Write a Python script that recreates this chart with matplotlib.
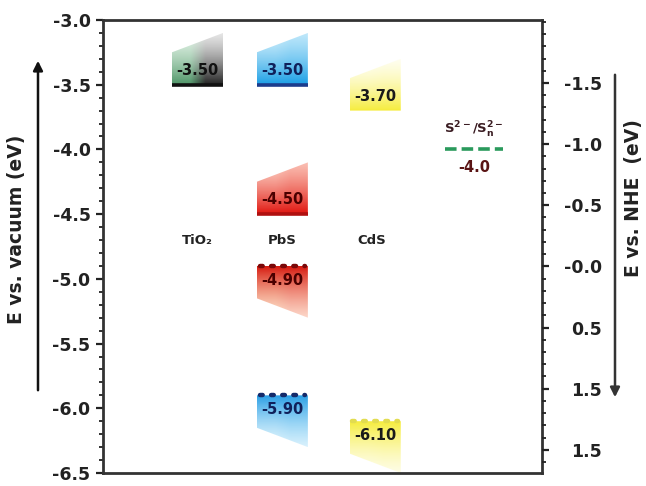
import numpy as np
import matplotlib
matplotlib.use("Agg")
import matplotlib.pyplot as plt
from matplotlib.patches import Polygon, FancyArrowPatch
from matplotlib.colors import to_rgb
from matplotlib.ticker import MultipleLocator, FixedLocator

plt.rcParams["font.family"] = ["DejaVu Sans"]
plt.rcParams["font.weight"] = "bold"

# ---- data -------------------------------------------------------------
materials = ["TiO₂", "PbS", "CdS"]
band_material = ["TiO₂", "PbS", "PbS", "PbS", "PbS", "CdS", "CdS"]
band_energy = [-3.50, -3.50, -4.50, -4.90, -5.90, -3.70, -6.10]   # eV vs vacuum
band_kind = ["CB", "CB", "CB", "VB", "VB", "CB", "VB"]

redox_label = r"$\mathbf{S^{2-}/S_n^{2-}}$"
redox_energy = -4.0

vacuum_ticks = [-3.0, -3.5, -4.0, -4.5, -5.0, -5.5, -6.0, -6.5]
nhe_ticks = [-1.5, -1.0, -0.5, 0.0, 0.5, 1.0, 1.5]
nhe_tick_labels = ["-1.5", "-1.0", "-0.5", "-0.0", "0.5", "1.5", "1.5"]

# ---- styles -----------------------------------------------------------
# per band: (near-edge colour left, near-edge colour right, far colour left,
#            far colour right, alpha near, alpha far, edge line colour,
#            edge line style, text colour)
band_styles = [
    ((0.30, 0.58, 0.40), (0.12, 0.12, 0.12), (0.72, 0.88, 0.76), (0.72, 0.72, 0.72),
     1.0, 0.35, "#111111", "solid", "#111111"),
    ((0.10, 0.62, 0.90), (0.10, 0.62, 0.90), (0.60, 0.86, 0.97), (0.45, 0.80, 0.96),
     1.0, 0.45, "#1c3c8c", "solid", "#10205a"),
    ((0.88, 0.08, 0.06), (0.88, 0.08, 0.06), (0.98, 0.62, 0.52), (0.96, 0.45, 0.35),
     1.0, 0.45, "#b01010", "solid", "#4a0000"),
    ((0.84, 0.10, 0.06), (0.84, 0.10, 0.06), (0.99, 0.72, 0.50), (0.97, 0.55, 0.40),
     1.0, 0.35, "#7a0808", "dotted", "#4a0000"),
    ((0.16, 0.62, 0.90), (0.16, 0.62, 0.90), (0.65, 0.88, 0.98), (0.50, 0.82, 0.97),
     1.0, 0.30, "#142a6a", "dotted", "#10205a"),
    ((0.96, 0.92, 0.15), (0.96, 0.92, 0.15), (0.99, 0.98, 0.70), (0.99, 0.97, 0.60),
     0.9, 0.15, None, None, "#1a1a1a"),
    ((0.96, 0.92, 0.15), (0.96, 0.92, 0.15), (0.99, 0.98, 0.70), (0.99, 0.97, 0.60),
     0.9, 0.25, "#e2dc50", "dotted", "#1a1a1a"),
]

W, H = 646, 486
fig = plt.figure(figsize=(W / 100, H / 100), dpi=100)
ax = fig.add_axes([103 / W, 13 / H, 439 / W, 453 / H])

col_x = {m: x for m, x in zip(materials, [1.29, 2.45, 3.72])}
box_w = 0.70
h_short, h_long = 0.25, 0.40


def band_box(xc, value, kind, style, label):
    cl_n, cr_n, cl_f, cr_f, a_n, a_f, lc, ls, tc = style
    d = 1 if kind == "CB" else -1
    x0, x1 = xc - box_w / 2, xc + box_w / 2
    poly = Polygon([(x0, value), (x1, value), (x1, value + d * h_long),
                    (x0, value + d * h_short)], closed=True,
                   facecolor="none", edgecolor="none", transform=ax.transData)
    ax.add_patch(poly)
    ymin, ymax = sorted([value, value + d * h_long])
    ny, nx = 90, 40
    ys = np.linspace(ymin, ymax, ny)[:, None]
    xs = np.linspace(0, 1, nx)[None, :]
    t = np.abs(ys - value) / h_long
    s = np.clip((xs - 0.35) / 0.3, 0, 1)
    near = np.array(cl_n)[None, None, :] * (1 - s[..., None]) + np.array(cr_n)[None, None, :] * s[..., None]
    far = np.array(cl_f)[None, None, :] * (1 - s[..., None]) + np.array(cr_f)[None, None, :] * s[..., None]
    tt = t[..., None]
    rgb = near * (1 - tt) + far * tt
    alpha = a_n * (1 - t) + a_f * t
    img = np.concatenate([rgb, np.broadcast_to(alpha, (ny, nx))[..., None]], axis=2)
    im = ax.imshow(img, extent=[x0, x1, ymin, ymax], origin="lower",
                   aspect="auto", interpolation="bilinear", zorder=2)
    im.set_clip_path(poly)
    if lc is not None:
        if ls == "dotted":
            ax.plot([x0 + 0.04, x1 - 0.04], [value, value], color=lc, lw=3.2,
                    linestyle=(0, (0.6, 1.9)), dash_capstyle="round", zorder=3)
        else:
            ax.plot([x0, x1], [value, value], color=lc, lw=2.6, zorder=3,
                    solid_capstyle="butt")
    ax.text(xc, value + d * 0.11, label, ha="center", va="center",
            fontsize=10.5, color=tc, zorder=4)


for m, e, k, st in zip(band_material, band_energy, band_kind, band_styles):
    band_box(col_x[m], e, k, st, f"{e:.2f}")

for m in materials:
    ax.text(col_x[m] - (0.05 if m == "CdS" else 0), -4.70, m, ha="center",
            va="center", fontsize=9.5, color="#222222")

# redox couple
rx = 5.07
ax.plot([rx - 0.40, rx + 0.40], [redox_energy, redox_energy], color="#2a9a5c",
        lw=2.6, linestyle=(0, (3.2, 1.4)), zorder=3)
ax.text(rx, redox_energy + 0.15, redox_label, ha="center", va="center",
        fontsize=9.5, color="#3a1c22")
ax.text(rx, redox_energy - 0.14, f"{redox_energy:.1f}", ha="center",
        va="center", fontsize=10.5, color="#5a1414")

# axes limits and ticks
ax.set_xlim(0, 6)
ax.set_ylim(-6.5, -3.0)
ax.set_xticks([])
ax.yaxis.set_major_locator(FixedLocator(vacuum_ticks))
ax.yaxis.set_minor_locator(MultipleLocator(0.1))
ax.set_yticklabels([f"{v:.1f}" for v in vacuum_ticks])
ax.tick_params(axis="y", which="major", direction="out", length=5, width=1.6,
               labelsize=12.5, pad=4, colors="#222222")
ax.tick_params(axis="y", which="minor", direction="out", length=3, width=1.3,
               colors="#222222")
for sp in ax.spines.values():
    sp.set_linewidth(2.0)
    sp.set_color("#333333")

ax2 = ax.twinx()
ax2.set_ylim(1.69, -2.015)
ax2.yaxis.set_major_locator(FixedLocator(nhe_ticks))
ax2.yaxis.set_minor_locator(MultipleLocator(0.1))
ax2.set_yticklabels(nhe_tick_labels, ha="right")
ax2.tick_params(axis="y", which="major", direction="out", length=5, width=1.6,
                labelsize=12.5, pad=38, colors="#222222")
ax2.tick_params(axis="y", which="minor", direction="out", length=3, width=1.3,
                colors="#222222")
for sp in ax2.spines.values():
    sp.set_visible(False)

# axis titles with direction arrows
fig.text(17 / W, 1 - 229 / H, "E vs. vacuum (eV)", rotation=90, ha="center",
         va="center", fontsize=13.5, color="#222222")
fig.text(633 / W, 1 - 198 / H, "E vs. NHE  (eV)", rotation=90, ha="center",
         va="center", fontsize=13.5, color="#222222")
fig.add_artist(FancyArrowPatch((38 / W, 1 - 393 / H), (38 / W, 1 - 58 / H),
                               transform=fig.transFigure, arrowstyle="-|>",
                               mutation_scale=14, lw=1.8, color="#111111"))
fig.add_artist(FancyArrowPatch((615 / W, 1 - 72 / H), (615 / W, 1 - 400 / H),
                               transform=fig.transFigure, arrowstyle="-|>",
                               mutation_scale=14, lw=1.8, color="#333333"))

fig.savefig("out.png", dpi=100)
